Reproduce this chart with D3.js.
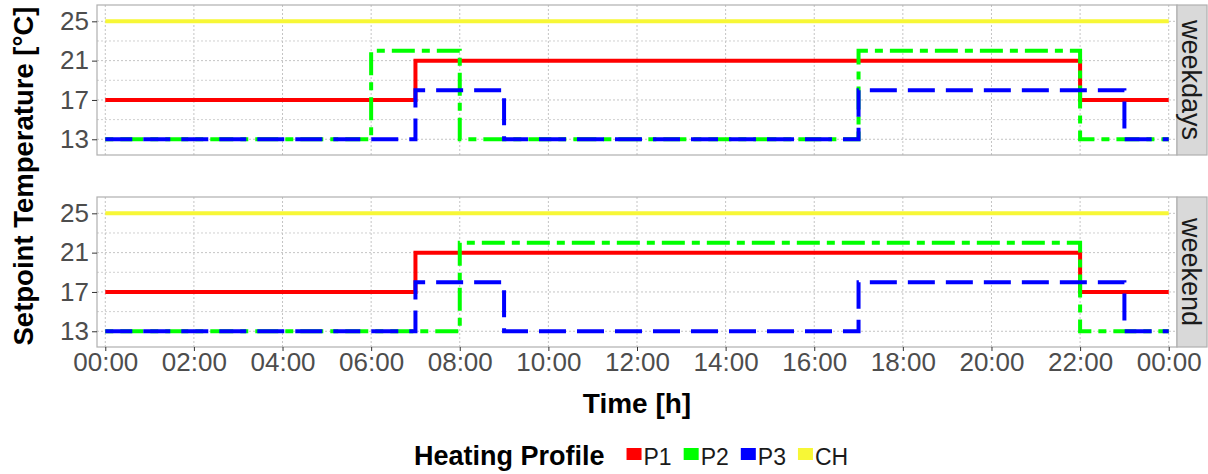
<!DOCTYPE html>
<html>
<head>
<meta charset="utf-8">
<script src="https://cdn.jsdelivr.net/npm/d3@7"></script>
<style>
  body { margin: 0; background: #fff; }
  svg { display: block; font-family: "Liberation Sans", Arial, sans-serif; }
</style>
</head>
<body>
<div id="chart"></div>
<script>
// facets and profiles
const facets = ["weekdays", "weekend"];
const profiles = ["P1", "P2", "P3", "CH"];
const profileColors = ["#ff0000", "#00ff00", "#0000ff", "#f7f736"];
const profileDash = [null, "8,7,23,7", "27,11", null];

// step data: [hour, setpoint] pairs, value holds until next hour
const weekdaysP1 = [[0, 17], [7, 21], [22, 17], [24, 17]];
const weekdaysP2 = [[0, 13], [6, 22], [8, 13], [17, 22], [22, 13], [24, 13]];
const weekdaysP3 = [[0, 13], [7, 18], [9, 13], [17, 18], [23, 13], [24, 13]];
const weekdaysCH = [[0, 25], [24, 25]];

const weekendP1 = [[0, 17], [7, 21], [22, 17], [24, 17]];
const weekendP2 = [[0, 13], [8, 22], [22, 13], [24, 13]];
const weekendP3 = [[0, 13], [7, 18], [9, 13], [17, 18], [23, 13], [24, 13]];
const weekendCH = [[0, 25], [24, 25]];

const facetData = {
  weekdays: [weekdaysP1, weekdaysP2, weekdaysP3, weekdaysCH],
  weekend: [weekendP1, weekendP2, weekendP3, weekendCH]
};

// axis ticks
const tempTicks = [13, 17, 21, 25];
const tempMinor = [15, 19, 23];
const timeTicks = [0, 2, 4, 6, 8, 10, 12, 14, 16, 18, 20, 22, 24];
const timeLabels = ["00:00", "02:00", "04:00", "06:00", "08:00", "10:00", "12:00",
                    "14:00", "16:00", "18:00", "20:00", "22:00", "00:00"];

const width = 1208, height = 474;
const panel = {left: 97, right: 1177, top: [5, 197], height: 150};
const stripW = 30;

const svg = d3.select("#chart")
  .append("svg")
  .attr("width", width)
  .attr("height", height);

const x = d3.scaleLinear()
  .domain([-0.187, 24.187])
  .range([panel.left, panel.right]);

facets.forEach((facet, i) => {
  const top = panel.top[i];
  const y = d3.scaleLinear()
    .domain([11.4, 26.66])
    .range([top + panel.height, top]);

  const g = svg.append("g");

  // panel background
  g.append("rect")
    .attr("x", panel.left).attr("y", top)
    .attr("width", panel.right - panel.left).attr("height", panel.height)
    .attr("fill", "#fff");

  // grid
  g.selectAll(".minor")
    .data(tempMinor)
    .enter().append("line")
    .attr("x1", panel.left).attr("x2", panel.right)
    .attr("y1", d => y(d)).attr("y2", d => y(d))
    .attr("stroke", "#d0d0d0").attr("stroke-width", 1)
    .attr("stroke-dasharray", "2,2");

  g.selectAll(".hmajor")
    .data(tempTicks)
    .enter().append("line")
    .attr("x1", panel.left).attr("x2", panel.right)
    .attr("y1", d => y(d)).attr("y2", d => y(d))
    .attr("stroke", "#c4c4c4").attr("stroke-width", 1)
    .attr("stroke-dasharray", "2,2");

  g.selectAll(".vmajor")
    .data(timeTicks)
    .enter().append("line")
    .attr("x1", d => x(d)).attr("x2", d => x(d))
    .attr("y1", top).attr("y2", top + panel.height)
    .attr("stroke", "#c4c4c4").attr("stroke-width", 1)
    .attr("stroke-dasharray", "2,2");

  // step lines
  const line = d3.line()
    .x(d => x(d[0]))
    .y(d => y(d[1]))
    .curve(d3.curveStepAfter);

  facetData[facet].forEach((series, k) => {
    g.append("path")
      .datum(series)
      .attr("fill", "none")
      .attr("stroke", profileColors[k])
      .attr("stroke-width", 4)
      .attr("stroke-dasharray", profileDash[k])
      .attr("d", line);
  });

  // panel border
  g.append("rect")
    .attr("x", panel.left).attr("y", top)
    .attr("width", panel.right - panel.left).attr("height", panel.height)
    .attr("fill", "none")
    .attr("stroke", "#b0b0b0").attr("stroke-width", 1.2);

  // strip
  g.append("rect")
    .attr("x", panel.right).attr("y", top)
    .attr("width", stripW).attr("height", panel.height)
    .attr("fill", "#d9d9d9")
    .attr("stroke", "#b0b0b0").attr("stroke-width", 1.2);

  g.append("text")
    .attr("transform", "translate(" + (panel.right + stripW / 2 - 1) + "," + (top + panel.height / 2) + ") rotate(90)")
    .attr("text-anchor", "middle")
    .attr("dy", "0.35em")
    .attr("font-size", 27)
    .attr("fill", "#1a1a1a")
    .text(facet);

  // y-axis
  const yAxis = g.append("g")
    .attr("transform", "translate(" + panel.left + ",0)")
    .call(d3.axisLeft(y).tickValues(tempTicks).tickSize(5).tickPadding(3));
  yAxis.select(".domain").remove();
  yAxis.selectAll(".tick line").attr("stroke", "#333");
  yAxis.selectAll(".tick text")
    .attr("font-size", 26)
    .attr("fill", "#4d4d4d")
    .attr("font-family", "Liberation Sans, Arial, sans-serif");

  // x-axis on the last panel only
  if (i === facets.length - 1) {
    const xAxis = g.append("g")
      .attr("transform", "translate(0," + (top + panel.height) + ")")
      .call(d3.axisBottom(x).tickValues(timeTicks)
        .tickFormat((d, j) => timeLabels[j]).tickSize(4).tickPadding(2));
    xAxis.select(".domain").remove();
    xAxis.selectAll(".tick line").attr("stroke", "#333");
    xAxis.selectAll(".tick text")
      .attr("font-size", 26)
      .attr("fill", "#4d4d4d")
      .attr("font-family", "Liberation Sans, Arial, sans-serif");
  }
});

// axis titles
svg.append("text")
  .attr("x", (panel.left + panel.right) / 2)
  .attr("y", 413)
  .attr("text-anchor", "middle")
  .attr("font-size", 28)
  .attr("font-weight", "bold")
  .attr("fill", "#000")
  .text("Time [h]");

svg.append("text")
  .attr("transform", "translate(33," + (panel.top[0] + panel.top[1] + panel.height) / 2 + ") rotate(-90)")
  .attr("text-anchor", "middle")
  .attr("font-size", 27.5)
  .attr("font-weight", "bold")
  .attr("fill", "#000")
  .text("Setpoint Temperature [°C]");

// legend
const legend = svg.append("g").attr("transform", "translate(414,465)");
const legTitle = legend.append("text")
  .attr("font-size", 27)
  .attr("font-weight", "bold")
  .attr("fill", "#000")
  .text("Heating Profile");

let lx = legTitle.node().getComputedTextLength() + 22;
profiles.forEach((p, k) => {
  legend.append("rect")
    .attr("x", lx).attr("y", -17)
    .attr("width", 15).attr("height", 12)
    .attr("fill", profileColors[k]);
  const t = legend.append("text")
    .attr("x", lx + 17)
    .attr("font-size", 23)
    .attr("fill", "#1a1a1a")
    .text(p);
  lx += 17 + t.node().getComputedTextLength() + 12;
});
</script>
</body>
</html>
